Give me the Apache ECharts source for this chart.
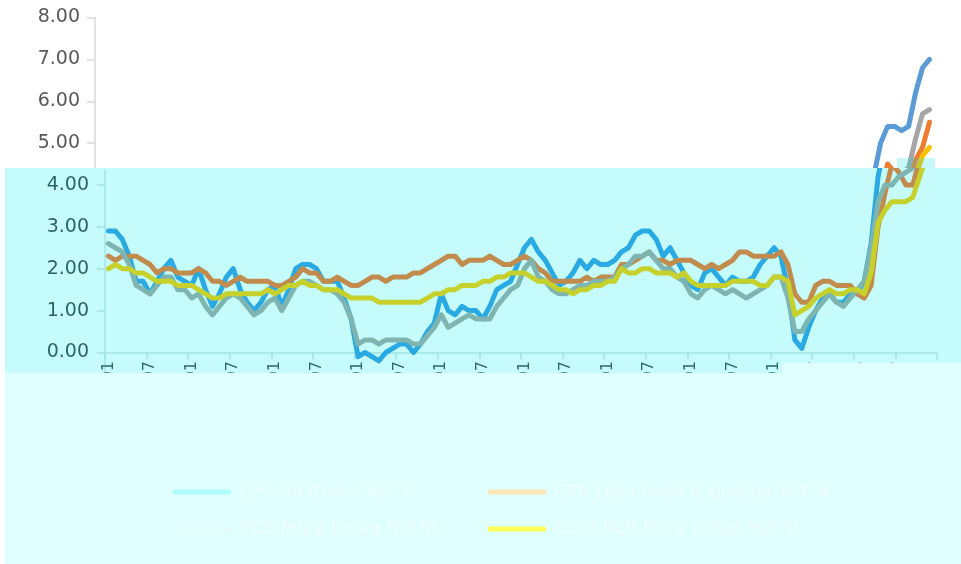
<!DOCTYPE html>
<html>
<head>
<meta charset="utf-8">
<script src="https://cdn.jsdelivr.net/npm/echarts@6/dist/echarts.min.js"></script>
<style>
html,body{margin:0;padding:0;background:#ffffff;}
#chart{width:961px;height:564px;}
</style>
</head>
<body>
<div id="chart"></div>
<script>
// ---- data ----
const years = ['2012','2013','2014','2015','2016','2017','2018','2019','2020','2021'];
const months = ['01','02','03','04','05','06','07','08','09','10','11','12'];
const categories = [];
years.forEach(y => months.forEach(m => categories.push(y + '-' + m)));

const seriesNames = ['CPI: All Items YoY %', 'CPI: Less Food & Energy YoY %', 'PCE Price Index YoY %', 'Core PCE Price Index YoY %'];

const cpi = [
  2.9, 2.9, 2.7, 2.3, 1.7, 1.7, 1.4, 1.7, 2.0, 2.2, 1.8, 1.7,
  1.6, 2.0, 1.5, 1.1, 1.4, 1.8, 2.0, 1.5, 1.2, 1.0, 1.2, 1.5,
  1.6, 1.1, 1.5, 2.0, 2.1, 2.1, 2.0, 1.7, 1.7, 1.7, 1.3, 0.8,
  -0.1, 0.0, -0.1, -0.2, 0.0, 0.1, 0.2, 0.2, 0.0, 0.2, 0.5, 0.7,
  1.4, 1.0, 0.9, 1.1, 1.0, 1.0, 0.8, 1.1, 1.5, 1.6, 1.7, 2.1,
  2.5, 2.7, 2.4, 2.2, 1.9, 1.6, 1.7, 1.9, 2.2, 2.0, 2.2, 2.1,
  2.1, 2.2, 2.4, 2.5, 2.8, 2.9, 2.9, 2.7, 2.3, 2.5, 2.2, 1.9,
  1.6, 1.5, 1.9, 2.0, 1.8, 1.6, 1.8, 1.7, 1.7, 1.8, 2.1, 2.3,
  2.5, 2.3, 1.5, 0.3, 0.1, 0.6, 1.0, 1.3, 1.4, 1.2, 1.2, 1.4,
  1.4, 1.7, 2.6, 4.2, 5.0, 5.4, 5.4, 5.3, 5.4, 6.2, 6.8, 7.0
];
const coreCpi = [
  2.3, 2.2, 2.3, 2.3, 2.3, 2.2, 2.1, 1.9, 2.0, 2.0, 1.9, 1.9,
  1.9, 2.0, 1.9, 1.7, 1.7, 1.6, 1.7, 1.8, 1.7, 1.7, 1.7, 1.7,
  1.6, 1.6, 1.7, 1.8, 2.0, 1.9, 1.9, 1.7, 1.7, 1.8, 1.7, 1.6,
  1.6, 1.7, 1.8, 1.8, 1.7, 1.8, 1.8, 1.8, 1.9, 1.9, 2.0, 2.1,
  2.2, 2.3, 2.3, 2.1, 2.2, 2.2, 2.2, 2.3, 2.2, 2.1, 2.1, 2.2,
  2.3, 2.2, 2.0, 1.9, 1.7, 1.7, 1.7, 1.7, 1.7, 1.8, 1.7, 1.8,
  1.8, 1.8, 2.1, 2.1, 2.2, 2.3, 2.4, 2.2, 2.2, 2.1, 2.2, 2.2,
  2.2, 2.1, 2.0, 2.1, 2.0, 2.1, 2.2, 2.4, 2.4, 2.3, 2.3, 2.3,
  2.3, 2.4, 2.1, 1.4, 1.2, 1.2, 1.6, 1.7, 1.7, 1.6, 1.6, 1.6,
  1.4, 1.3, 1.6, 3.0, 3.8, 4.5, 4.3, 4.0, 4.0, 4.6, 4.9, 5.5
];
const pce = [
  2.6, 2.5, 2.4, 2.1, 1.6, 1.5, 1.4, 1.6, 1.8, 1.8, 1.5, 1.5,
  1.3, 1.4, 1.1, 0.9, 1.1, 1.3, 1.4, 1.3, 1.1, 0.9, 1.0, 1.2,
  1.3, 1.0, 1.3, 1.6, 1.7, 1.7, 1.6, 1.5, 1.5, 1.4, 1.2, 0.8,
  0.2, 0.3, 0.3, 0.2, 0.3, 0.3, 0.3, 0.3, 0.2, 0.2, 0.4, 0.6,
  0.9, 0.6, 0.7, 0.8, 0.9, 0.8, 0.8, 0.8, 1.1, 1.3, 1.5, 1.6,
  2.0, 2.2, 1.8, 1.7, 1.5, 1.4, 1.4, 1.5, 1.6, 1.6, 1.7, 1.7,
  1.7, 1.8, 2.0, 2.1, 2.3, 2.3, 2.4, 2.2, 2.0, 2.0, 1.8, 1.7,
  1.4, 1.3, 1.5, 1.6, 1.5, 1.4, 1.5, 1.4, 1.3, 1.4, 1.5, 1.6,
  1.8, 1.8, 1.3, 0.5, 0.5, 0.8, 1.0, 1.2, 1.4, 1.2, 1.1, 1.3,
  1.5, 1.7, 2.5, 3.6, 4.0, 4.0, 4.2, 4.3, 4.4, 5.1, 5.7, 5.8
];
const corePce = [
  2.0, 2.1, 2.0, 2.0, 1.9, 1.9, 1.8, 1.7, 1.7, 1.7, 1.6, 1.6,
  1.6, 1.5, 1.4, 1.3, 1.3, 1.4, 1.4, 1.4, 1.4, 1.4, 1.4, 1.5,
  1.4, 1.5, 1.6, 1.6, 1.7, 1.6, 1.6, 1.5, 1.5, 1.5, 1.4, 1.3,
  1.3, 1.3, 1.3, 1.2, 1.2, 1.2, 1.2, 1.2, 1.2, 1.2, 1.3, 1.4,
  1.4, 1.5, 1.5, 1.6, 1.6, 1.6, 1.7, 1.7, 1.8, 1.8, 1.9, 1.9,
  1.9, 1.8, 1.7, 1.7, 1.6, 1.5, 1.5, 1.4, 1.5, 1.5, 1.6, 1.6,
  1.7, 1.7, 2.0, 1.9, 1.9, 2.0, 2.0, 1.9, 1.9, 1.9, 1.8, 1.9,
  1.7, 1.6, 1.6, 1.6, 1.6, 1.6, 1.7, 1.7, 1.7, 1.7, 1.6, 1.6,
  1.8, 1.8, 1.7, 0.9, 1.0, 1.1, 1.3, 1.4, 1.5, 1.4, 1.4, 1.5,
  1.5, 1.4, 1.9, 3.1, 3.4, 3.6, 3.6, 3.6, 3.7, 4.2, 4.7, 4.9
];
const yTicks = [0, 1, 2, 3, 4, 5, 6, 7, 8];

// ---- styles ----
const seriesValues = [cpi, coreCpi, pce, corePce];
const colorsTop = ['#5b9bd5', '#ed7d31', '#a5a5a5', '#ffc000'];
const colorsTint = ['#29aae2', '#c08b4c', '#7eb5b0', '#c6d12c'];
const legendIconColors = ['#aefcfc', '#ffe6b6', '#e4fbfb', '#ffff5a'];
const FONT = 'DejaVu Sans';
const LW = 5;

const chart = echarts.init(document.getElementById('chart'), null, {renderer: 'canvas'});

const series = [];
seriesValues.forEach((vals, i) => {
  series.push({
    name: seriesNames[i], type: 'line', xAxisIndex: 0, yAxisIndex: 0,
    data: vals, symbol: 'none', smooth: false, z: 2,
    lineStyle: {color: colorsTop[i], width: LW, cap: 'round', join: 'round'},
    itemStyle: {color: colorsTop[i]}
  });
});
seriesValues.forEach((vals, i) => {
  series.push({
    name: seriesNames[i], type: 'line', xAxisIndex: 1, yAxisIndex: 1,
    data: vals, symbol: 'none', smooth: false, z: 20,
    lineStyle: {color: colorsTint[i], width: LW, cap: 'round', join: 'round'},
    itemStyle: {color: colorsTint[i]}
  });
});

const legendPos = [[173, 483], [488, 483], [173, 520], [488, 520]];
const legends = seriesNames.map((n, i) => ({
  show: true, z: 40, left: legendPos[i][0], top: legendPos[i][1],
  itemWidth: 58, itemHeight: 5, padding: 0, itemGap: 10,
  icon: 'roundRect',
  data: [{name: n, icon: 'roundRect', itemStyle: {color: legendIconColors[i], opacity: 1, borderWidth: 0}}],
  textStyle: {color: '#eefefe', fontFamily: FONT, fontSize: 18, lineHeight: 14, padding: [0, 0, 0, 4]}
}));

const yB_min = -(373 - 352.5) / 41.9;
const yB_max = (352.5 - 170.5) / 41.9;

chart.setOption({
  animation: false,
  backgroundColor: '#ffffff',
  grid: [
    {left: 95, right: 28, top: 17.5, bottom: 211.5},
    {left: 105, right: 24, top: 170.5, bottom: 191}
  ],
  xAxis: [
    {type: 'category', gridIndex: 0, data: categories, boundaryGap: true, show: false},
    {type: 'category', gridIndex: 1, data: categories, boundaryGap: true, z: 20,
     axisLine: {show: true, onZero: true, lineStyle: {color: '#a3e4e4', width: 1.5}},
     axisTick: {show: true, interval: 5, length: 7, lineStyle: {color: '#a3e4e4', width: 1.5}},
     axisLabel: {interval: 5, rotate: 90, margin: -12, color: '#2a6a6a', fontFamily: FONT, fontSize: 16},
     splitLine: {show: false}}
  ],
  yAxis: [
    {type: 'value', gridIndex: 0, min: yTicks[0], max: yTicks[yTicks.length - 1], interval: 1,
     axisLine: {show: true, lineStyle: {color: '#d9d9d9', width: 1.5}},
     axisTick: {show: true, length: 8, lineStyle: {color: '#d9d9d9', width: 1.5}},
     axisLabel: {margin: 15, color: '#595959', fontFamily: FONT, fontSize: 19,
                 formatter: v => v.toFixed(2)},
     splitLine: {show: false}},
    {type: 'value', gridIndex: 1, min: yB_min, max: yB_max, splitNumber: 5, z: 20,
     axisLine: {show: true, onZero: false, lineStyle: {color: '#a3e4e4', width: 1.5}},
     axisTick: {show: true, length: 8, lineStyle: {color: '#a3e4e4', width: 1.5}},
     axisLabel: {margin: 16, color: '#2a6666', fontFamily: FONT, fontSize: 19,
                 showMinLabel: false, showMaxLabel: false,
                 formatter: v => (Math.abs(v - Math.round(v)) < 1e-6 && yTicks.indexOf(Math.round(v)) >= 0) ? v.toFixed(2) : ''},
     splitLine: {show: false}}
  ],
  legend: legends,
  graphic: [
    {type: 'rect', z: 10, silent: true, shape: {x: 5, y: 168, width: 956, height: 205},
     style: {fill: '#c6fbfb'}},
    {type: 'rect', z: 15, silent: true, shape: {x: 897, y: 158, width: 38, height: 10},
     style: {fill: 'rgba(0,225,225,0.22)'}},
    {type: 'rect', z: 30, silent: true, shape: {x: 5, y: 373, width: 777, height: 191},
     style: {fill: '#e0ffff'}},
    {type: 'rect', z: 30, silent: true, shape: {x: 782, y: 363, width: 179, height: 201},
     style: {fill: '#e0ffff'}}
  ],
  series: series
});
</script>
</body>
</html>
